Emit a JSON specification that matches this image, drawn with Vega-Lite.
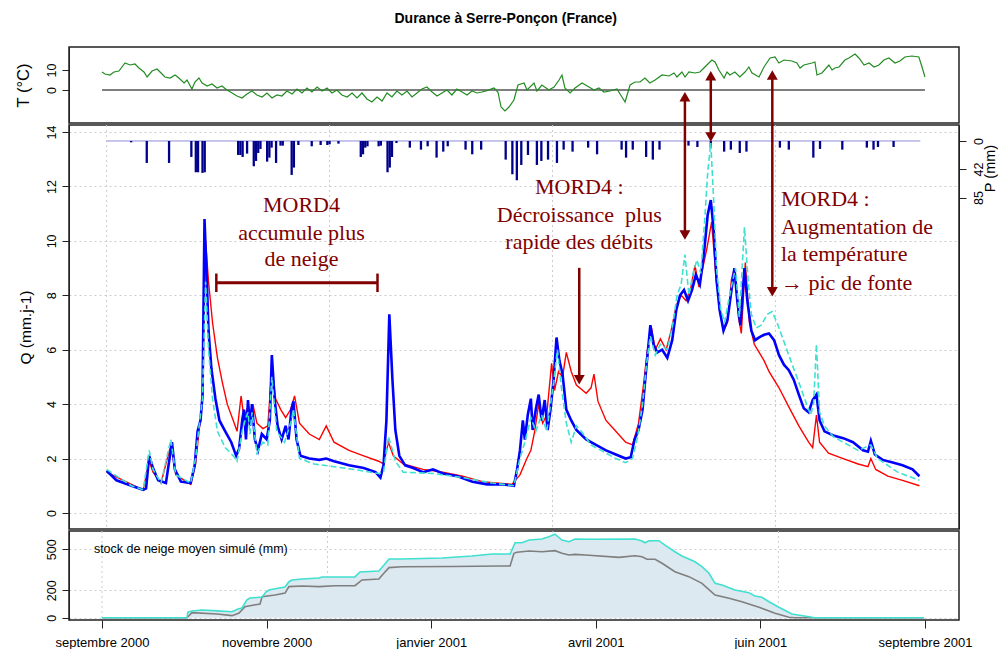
{
 "$schema": "https://vega.github.io/schema/vega-lite/v6.json",
 "padding": {"left": 14, "top": 12, "right": 2, "bottom": 2},
 "background": "white",
 "title": {"text": "Durance à Serre-Ponçon (France)", "font": "Liberation Sans", "fontSize": 14, "fontWeight": "bold", "anchor": "middle", "baseline": "bottom", "offset": 6, "color": "black"},
 "config": {
  "font": "Liberation Sans",
  "view": {"stroke": "#222", "strokeWidth": 1.5},
  "axis": {"labelFont": "Liberation Sans", "titleFont": "Liberation Sans", "labelColor": "black", "titleColor": "black", "domainColor": "#222", "tickColor": "#222", "labelFontSize": 12.5, "titleFontSize": 15.5, "titleFontWeight": "normal", "tickSize": 7, "gridColor": "#cccccc", "gridDash": [2, 3], "labelOverlap": false, "labelFlush": false, "labelBound": false}
 },
 "bounds": "flush",
 "spacing": 2,
 "datasets": {
  "one": [{"k": 0}],
  "temp": [
   {"d":0,"T":9},{"d":1.3,"T":8},{"d":3.5,"T":7.5},{"d":5.3,"T":9},{"d":7.5,"T":9.5},{"d":10.2,"T":13.5},{"d":12.4,"T":12.5},{"d":14.6,"T":13},{"d":16.4,"T":11},{"d":18.6,"T":9},{"d":20,"T":6.5},{"d":22.2,"T":9.5},{"d":24.4,"T":10.5},{"d":26.2,"T":8.5},{"d":27.9,"T":6.5},{"d":30.2,"T":6},{"d":32.4,"T":7.5},{"d":34.1,"T":6},{"d":36.4,"T":3.5},{"d":37.7,"T":5},{"d":39.9,"T":0.5},{"d":41.2,"T":4},{"d":43,"T":6},{"d":44.4,"T":3.5},
   {"d":46.6,"T":2},{"d":48.8,"T":3},{"d":51,"T":1},{"d":53.2,"T":2},{"d":55.4,"T":0},{"d":57.7,"T":-1.5},{"d":59.9,"T":-3},{"d":62.1,"T":-4},{"d":64.3,"T":-2},{"d":66.5,"T":-0.5},{"d":68.7,"T":-2.5},{"d":71,"T":-3.5},{"d":73.2,"T":-1.5},{"d":75.4,"T":-4},{"d":77.6,"T":-2.5},{"d":79.8,"T":-3},{"d":82,"T":-0.5},{"d":84.3,"T":-2},{"d":86.5,"T":0.5},{"d":88.7,"T":-1.5},{"d":90.9,"T":1},{"d":93.1,"T":-1},{"d":95.4,"T":1.5},{"d":97.6,"T":-0.5},{"d":99.8,"T":1},{"d":102,"T":-1.5},{"d":104.2,"T":0},{"d":106.4,"T":-2.5},{"d":108.7,"T":-3.5},{"d":110.9,"T":-1.5},{"d":113.1,"T":-4},{"d":115.3,"T":-1.5},{"d":117.5,"T":-4.5},{"d":119.7,"T":-6},{"d":122,"T":-3.5},{"d":124.2,"T":-5.5},{"d":126.4,"T":-1.5},{"d":128.6,"T":-3.5},{"d":130.8,"T":-0.5},{"d":133,"T":-2.5},{"d":135.3,"T":-0.5},{"d":137.5,"T":-3.5},{"d":139.7,"T":-1.5},{"d":141.9,"T":0.5},{"d":144.1,"T":1.5},{"d":146.4,"T":-1},{"d":148.6,"T":-3},{"d":150.8,"T":-1.5},{"d":153,"T":0},{"d":155.2,"T":-2.5},{"d":157.4,"T":0.5},{"d":159.7,"T":-1},{"d":161.9,"T":-2.5},{"d":164.1,"T":-0.5},{"d":166.3,"T":-1.5},{"d":168.5,"T":-1},
   {"d":170.7,"T":-0.3},{"d":173.9,"T":1},{"d":175.6,"T":-1},{"d":177,"T":-8.5},{"d":178.7,"T":-10.5},{"d":180.5,"T":-8.5},{"d":182.7,"T":-5},{"d":184.5,"T":2.5},{"d":187.2,"T":3.5},{"d":188.5,"T":0},{"d":191.6,"T":3.5},{"d":192.9,"T":-0.5},{"d":195.1,"T":2.5},{"d":198.2,"T":0},{"d":200.5,"T":1.5},{"d":202.7,"T":5},{"d":204,"T":7.5},{"d":205.3,"T":1},{"d":207.6,"T":-1.5},{"d":209.8,"T":1},{"d":212.9,"T":3.5},{"d":216,"T":1.5},{"d":218.2,"T":0},{"d":220.4,"T":1},{"d":222.6,"T":-1},{"d":225.3,"T":-0.5},{"d":228.4,"T":0.5},{"d":230.6,"T":-3.5},{"d":232,"T":-6},{"d":234.2,"T":2.5},{"d":236.4,"T":4},{"d":238.6,"T":4},{"d":240.8,"T":6},{"d":243,"T":3.5},{"d":245.3,"T":5},{"d":248.4,"T":7.5},{"d":251.5,"T":7},{"d":253.7,"T":8.5},{"d":255,"T":6.5},{"d":257.2,"T":9},{"d":258.6,"T":6.5},{"d":260.3,"T":9},{"d":263,"T":8.5},{"d":265.2,"T":9},{"d":267.4,"T":11.5},{"d":270.5,"T":15},{"d":271.9,"T":14},{"d":273.6,"T":10},{"d":275.9,"T":6},{"d":277.2,"T":9},{"d":278.5,"T":7.5},{"d":280.7,"T":9},{"d":282.9,"T":6.5},{"d":285.2,"T":9},{"d":286.9,"T":11.5},{"d":288.3,"T":8.5},{"d":291.4,"T":6.5},{"d":293.6,"T":11.5},{"d":296.3,"T":16},{"d":298.5,"T":16.5},{"d":300.2,"T":13.5},{"d":302.5,"T":15},{"d":306,"T":14.5},{"d":308.2,"T":13.5},{"d":309.6,"T":11},{"d":311.3,"T":12.5},{"d":314.9,"T":13.5},{"d":316.2,"T":14},{"d":317.1,"T":7.5},{"d":319.3,"T":8.5},{"d":322.4,"T":12.5},{"d":323.8,"T":10},{"d":325.1,"T":11},{"d":326.9,"T":11.5},{"d":329.5,"T":15},{"d":331.3,"T":16},{"d":334,"T":18},{"d":335.7,"T":16},{"d":338,"T":12.5},{"d":340.2,"T":13.5},{"d":342.4,"T":11.5},{"d":344.6,"T":12.5},{"d":346.8,"T":15},{"d":349,"T":16},{"d":351.7,"T":13.5},{"d":353.9,"T":14.5},{"d":356.1,"T":16.5},{"d":359.2,"T":17},{"d":362.3,"T":16.5},{"d":363.7,"T":11.5},{"d":365,"T":6.5}
  ],
  "qobs": [
   {"d":0,"q":1.55},{"d":4.4,"q":1.2},{"d":11.1,"q":1.0},{"d":16.4,"q":0.85},{"d":17.7,"q":0.9},{"d":19.1,"q":2.1},{"d":20.8,"q":1.65},{"d":23.1,"q":1.2},{"d":26.6,"q":1.1},{"d":28.4,"q":2.1},{"d":29.3,"q":2.6},{"d":30.6,"q":1.6},{"d":33.3,"q":1.15},{"d":37.7,"q":1.1},{"d":39.5,"q":1.75},{"d":40.8,"q":3.0},{"d":42.1,"q":3.4},{"d":43,"q":4.3},{"d":43.9,"q":10.8},{"d":44.8,"q":8.9},{"d":45.7,"q":6.7},{"d":47,"q":5.3},{"d":48.8,"q":4.2},{"d":50.6,"q":3.4},{"d":53.2,"q":3.0},{"d":55.9,"q":2.6},{"d":58.1,"q":2.1},{"d":59.4,"q":2.35},{"d":60.8,"q":3.4},{"d":61.6,"q":3.8},{"d":62.5,"q":2.7},{"d":63.4,"q":4.15},{"d":64.3,"q":3.2},{"d":65.2,"q":4.0},{"d":66.5,"q":2.7},{"d":67.9,"q":2.3},{"d":69.6,"q":2.9},{"d":71.8,"q":2.7},{"d":73.2,"q":3.4},{"d":74.1,"q":5.8},{"d":75.4,"q":4.15},{"d":76.7,"q":3.2},{"d":78.5,"q":2.7},{"d":80.3,"q":3.2},{"d":81.6,"q":2.7},{"d":82.9,"q":3.8},{"d":83.8,"q":4.1},{"d":85.2,"q":2.7},{"d":86.9,"q":2.1},{"d":90.9,"q":2.0},{"d":95.4,"q":1.95},{"d":98.5,"q":2.0},{"d":102,"q":1.9},{"d":108.7,"q":1.75},{"d":115.3,"q":1.65},{"d":120.6,"q":1.5},{"d":122.8,"q":1.3},{"d":124.2,"q":1.75},{"d":125.5,"q":3.4},{"d":126.8,"q":7.3},{"d":128.2,"q":4.9},{"d":129.5,"q":3.05},{"d":131.3,"q":2.1},{"d":133.9,"q":1.75},{"d":137.5,"q":1.65},{"d":141.9,"q":1.5},{"d":146.4,"q":1.6},{"d":150.8,"q":1.45},{"d":157.4,"q":1.35},{"d":164.1,"q":1.15},{"d":170.7,"q":1.05},{"d":177.4,"q":1.05},{"d":182.7,"q":1.0},{"d":184.1,"q":1.6},{"d":185.4,"q":2.3},{"d":186.7,"q":3.4},{"d":187.6,"q":2.7},{"d":188.9,"q":3.6},{"d":190.3,"q":4.2},{"d":191.1,"q":3.05},{"d":192.5,"q":3.8},{"d":193.8,"q":4.35},{"d":195.1,"q":3.4},{"d":196.5,"q":4.15},{"d":197.8,"q":3.05},{"d":199.1,"q":3.8},{"d":200.5,"q":4.9},{"d":201.8,"q":6.45},{"d":203.1,"q":5.6},{"d":204.5,"q":5.1},{"d":206.2,"q":3.8},{"d":208.4,"q":3.4},{"d":210.7,"q":3.05},{"d":215.1,"q":2.7},{"d":219.5,"q":2.5},{"d":224,"q":2.3},{"d":228.4,"q":2.15},{"d":232.8,"q":2.0},{"d":235.1,"q":2.05},{"d":236.8,"q":2.7},{"d":238.6,"q":3.05},{"d":240.4,"q":3.8},{"d":242.2,"q":5.45},{"d":243.9,"q":6.9},{"d":245.3,"q":6.2},{"d":247,"q":5.9},{"d":249.2,"q":6.0},{"d":251.5,"q":5.7},{"d":253.7,"q":6.35},{"d":255.5,"q":7.45},{"d":257.2,"q":8.0},{"d":259,"q":8.2},{"d":260.8,"q":7.8},{"d":262.6,"q":8.2},{"d":264.3,"q":8.75},{"d":266.1,"q":8.4},{"d":267.9,"q":9.5},{"d":269.6,"q":10.95},{"d":271,"q":11.5},{"d":272.3,"q":10.4},{"d":273.6,"q":8.55},{"d":275,"q":7.45},{"d":276.7,"q":6.7},{"d":278.5,"q":7.1},{"d":280.3,"q":8.2},{"d":281.6,"q":9.0},{"d":282.9,"q":7.8},{"d":284.3,"q":6.9},{"d":286.1,"q":9.0},{"d":287.4,"q":7.8},{"d":289.2,"q":6.7},{"d":290.9,"q":6.35},{"d":292.7,"q":6.45},{"d":294.9,"q":6.55},{"d":297.1,"q":6.6},{"d":299.4,"q":6.35},{"d":301.6,"q":5.8},{"d":303.8,"q":5.45},{"d":306,"q":5.25},{"d":308.2,"q":4.9},{"d":310.5,"q":4.35},{"d":312.7,"q":3.85},{"d":314.9,"q":3.7},{"d":316.7,"q":4.15},{"d":318.4,"q":4.35},{"d":319.8,"q":3.4},{"d":322,"q":3.0},{"d":326,"q":2.85},{"d":330.4,"q":2.75},{"d":334.8,"q":2.6},{"d":339.3,"q":2.3},{"d":341.5,"q":2.25},{"d":342.8,"q":2.65},{"d":344.6,"q":2.15},{"d":348.1,"q":1.95},{"d":352.6,"q":1.85},{"d":357,"q":1.75},{"d":361.5,"q":1.6},{"d":364.6,"q":1.35}
  ],
  "qred": [
   {"d":0,"q":1.5},{"d":11.1,"q":1.05},{"d":16.4,"q":0.85},{"d":19.1,"q":1.9},{"d":20.8,"q":1.5},{"d":24.4,"q":1.1},{"d":28.8,"q":2.5},{"d":31,"q":1.4},{"d":37.7,"q":1.05},{"d":39.9,"q":1.8},{"d":41.2,"q":2.8},{"d":43,"q":4.2},{"d":44.4,"q":10.0},{"d":45.7,"q":8.5},{"d":47.5,"q":7.0},{"d":49.7,"q":5.7},{"d":51.9,"q":4.8},{"d":54.1,"q":4.0},{"d":56.8,"q":3.4},{"d":58.5,"q":3.0},{"d":60.3,"q":4.3},{"d":61.6,"q":3.5},{"d":63.4,"q":3.9},{"d":64.8,"q":3.5},{"d":65.6,"q":4.0},{"d":67.4,"q":3.3},{"d":70.1,"q":3.1},{"d":72.3,"q":3.2},{"d":74.1,"q":5.3},{"d":75.8,"q":4.2},{"d":78.1,"q":3.8},{"d":80.3,"q":3.5},{"d":82.5,"q":3.8},{"d":84.3,"q":4.3},{"d":86.5,"q":3.3},{"d":90.9,"q":2.9},{"d":95.4,"q":2.7},{"d":98.5,"q":3.2},{"d":102,"q":2.6},{"d":108.7,"q":2.3},{"d":115.3,"q":2.1},{"d":122,"q":1.9},{"d":124.2,"q":1.8},{"d":126.4,"q":2.6},{"d":128.6,"q":2.1},{"d":133,"q":1.8},{"d":141.9,"q":1.6},{"d":150.8,"q":1.5},{"d":159.7,"q":1.35},{"d":168.5,"q":1.15},{"d":181.8,"q":1.05},{"d":185.4,"q":1.4},{"d":188.5,"q":2.0},{"d":190.3,"q":2.3},{"d":192,"q":3.0},{"d":193.8,"q":4.0},{"d":195.6,"q":3.3},{"d":197.4,"q":3.6},{"d":199.6,"q":5.5},{"d":200.9,"q":4.5},{"d":202.7,"q":5.2},{"d":204.5,"q":5.0},{"d":206.2,"q":5.9},{"d":208.4,"q":5.2},{"d":210.7,"q":4.7},{"d":215.1,"q":4.4},{"d":217.3,"q":4.6},{"d":218.6,"q":5.1},{"d":220.4,"q":4.1},{"d":224,"q":3.4},{"d":228.4,"q":3.0},{"d":232.8,"q":2.6},{"d":235.9,"q":2.5},{"d":238.6,"q":3.3},{"d":240.8,"q":4.7},{"d":242.6,"q":6.0},{"d":244.4,"q":6.8},{"d":246.1,"q":6.0},{"d":248.4,"q":6.4},{"d":251,"q":6.0},{"d":253.2,"q":6.7},{"d":255.5,"q":7.6},{"d":257.7,"q":8.0},{"d":259.9,"q":7.8},{"d":262.1,"q":8.3},{"d":263.9,"q":9.1},{"d":265.7,"q":8.3},{"d":267.4,"q":9.0},{"d":269.2,"q":9.7},{"d":271.4,"q":10.7},{"d":273.2,"q":8.8},{"d":275,"q":7.4},{"d":276.7,"q":6.7},{"d":278.5,"q":7.0},{"d":280.3,"q":8.6},{"d":281.6,"q":9.0},{"d":283.4,"q":7.2},{"d":284.7,"q":6.6},{"d":286.5,"q":9.2},{"d":288.3,"q":7.0},{"d":290.5,"q":6.2},{"d":292.7,"q":5.9},{"d":294.9,"q":5.6},{"d":297.1,"q":5.2},{"d":301.6,"q":4.6},{"d":306,"q":3.9},{"d":310.5,"q":3.2},{"d":314.9,"q":2.6},{"d":316.7,"q":2.4},{"d":318.4,"q":3.6},{"d":319.8,"q":2.6},{"d":323.8,"q":2.2},{"d":330.4,"q":2.0},{"d":337.1,"q":1.8},{"d":341.5,"q":1.7},{"d":342.8,"q":2.0},{"d":345,"q":1.6},{"d":350.4,"q":1.35},{"d":357,"q":1.2},{"d":364.6,"q":1.0}
  ],
  "qcyan": [
   {"d":0,"q":1.6},{"d":11.1,"q":1.0},{"d":16.4,"q":0.85},{"d":19.1,"q":2.3},{"d":20.8,"q":1.6},{"d":24.4,"q":1.1},{"d":28.8,"q":2.7},{"d":31,"q":1.4},{"d":37.7,"q":1.1},{"d":39.9,"q":2.0},{"d":41.2,"q":3.0},{"d":43,"q":4.2},{"d":44.4,"q":8.5},{"d":45.7,"q":6.0},{"d":47.5,"q":4.2},{"d":49.7,"q":3.0},{"d":53.2,"q":2.4},{"d":56.8,"q":2.1},{"d":58.5,"q":1.9},{"d":60.8,"q":3.0},{"d":62.1,"q":3.4},{"d":63.4,"q":3.7},{"d":64.3,"q":2.9},{"d":65.2,"q":3.7},{"d":67.4,"q":2.2},{"d":70.1,"q":2.6},{"d":72.3,"q":2.5},{"d":74.1,"q":5.0},{"d":76.3,"q":3.0},{"d":79.8,"q":2.6},{"d":82.9,"q":3.4},{"d":83.8,"q":3.8},{"d":86.5,"q":2.0},{"d":93.1,"q":1.8},{"d":102,"q":1.7},{"d":110.9,"q":1.6},{"d":122,"q":1.45},{"d":124.2,"q":1.5},{"d":126.4,"q":2.8},{"d":128.6,"q":2.2},{"d":129.5,"q":1.9},{"d":133,"q":1.5},{"d":146.4,"q":1.45},{"d":159.7,"q":1.3},{"d":173,"q":1.1},{"d":182.7,"q":1.0},{"d":185.4,"q":2.0},{"d":187.6,"q":2.6},{"d":190.3,"q":3.5},{"d":192.5,"q":3.0},{"d":195.1,"q":3.6},{"d":197.4,"q":3.0},{"d":200.5,"q":4.8},{"d":202.2,"q":6.0},{"d":204,"q":4.6},{"d":206.2,"q":3.3},{"d":208.4,"q":2.6},{"d":210.7,"q":3.2},{"d":212.9,"q":3.0},{"d":217.3,"q":2.5},{"d":221.8,"q":2.3},{"d":228.4,"q":2.0},{"d":232.8,"q":1.85},{"d":235.9,"q":2.0},{"d":238.2,"q":2.8},{"d":240.4,"q":4.0},{"d":242.2,"q":5.5},{"d":243.9,"q":6.5},{"d":246.1,"q":5.8},{"d":248.4,"q":6.2},{"d":251.5,"q":6.0},{"d":253.7,"q":6.8},{"d":255.9,"q":8.0},{"d":257.7,"q":8.4},{"d":259.4,"q":9.5},{"d":261.2,"q":8.0},{"d":263,"q":8.8},{"d":264.8,"q":9.3},{"d":266.5,"q":8.8},{"d":268.3,"q":10.8},{"d":269.6,"q":12.5},{"d":271,"q":13.6},{"d":272.3,"q":11.5},{"d":273.6,"q":9.0},{"d":275.4,"q":7.5},{"d":277.2,"q":7.0},{"d":279,"q":7.8},{"d":280.7,"q":8.5},{"d":282.1,"q":9.0},{"d":283.8,"q":7.2},{"d":286.1,"q":10.5},{"d":287.8,"q":8.5},{"d":289.2,"q":7.3},{"d":291.4,"q":6.8},{"d":293.6,"q":6.9},{"d":296.3,"q":7.3},{"d":298.5,"q":7.4},{"d":300.7,"q":7.0},{"d":303.8,"q":6.3},{"d":306,"q":5.8},{"d":308.2,"q":5.3},{"d":310.5,"q":4.8},{"d":313.1,"q":4.2},{"d":315.8,"q":3.6},{"d":317.1,"q":4.0},{"d":318.4,"q":6.2},{"d":319.8,"q":3.7},{"d":322,"q":3.2},{"d":326,"q":2.8},{"d":330.4,"q":2.6},{"d":337.1,"q":2.3},{"d":342.8,"q":2.5},{"d":345.9,"q":2.0},{"d":354.8,"q":1.5},{"d":364.6,"q":1.2}
  ],
  "precip": [
   {"d":11,"P":2},{"d":18,"P":33},{"d":28,"P":33},{"d":38,"P":24},{"d":40,"P":47},{"d":41,"P":47},{"d":43,"P":48},{"d":44,"P":47},{"d":59,"P":21},{"d":60,"P":21},{"d":61,"P":24},{"d":63,"P":19},{"d":66,"P":38},{"d":67,"P":30},{"d":68,"P":18},{"d":69,"P":12},{"d":72,"P":31},{"d":73,"P":25},{"d":74,"P":10},{"d":76,"P":33},{"d":78,"P":7},{"d":79,"P":7},{"d":83,"P":51},{"d":84,"P":40},{"d":86,"P":6},{"d":92,"P":8},{"d":96,"P":6},{"d":99,"P":6},{"d":100,"P":5},{"d":104,"P":4},{"d":114,"P":24},{"d":115,"P":20},{"d":116,"P":10},{"d":117,"P":8},{"d":122,"P":8},{"d":123,"P":7},{"d":126,"P":47},{"d":127,"P":40},{"d":128,"P":24},{"d":130,"P":3},
   {"d":136,"P":10},{"d":141,"P":13},{"d":144,"P":8},{"d":148,"P":25},{"d":151,"P":16},{"d":153,"P":8},{"d":161,"P":13},{"d":164,"P":20},{"d":168,"P":13},{"d":179,"P":28},{"d":182,"P":50},{"d":184,"P":59},{"d":186,"P":36},{"d":189,"P":21},{"d":193,"P":36},{"d":195,"P":30},{"d":198,"P":28},{"d":202,"P":33},{"d":205,"P":13},{"d":209,"P":16},{"d":216,"P":10},{"d":220,"P":20},{"d":231,"P":13},{"d":233,"P":25},{"d":236,"P":13},{"d":242,"P":24},{"d":245,"P":28},{"d":248,"P":13},{"d":261,"P":7},{"d":265,"P":9},{"d":271,"P":10},{"d":277,"P":16},{"d":280,"P":13},{"d":284,"P":18},{"d":287,"P":16},{"d":302,"P":10},{"d":306,"P":13},{"d":317,"P":25},{"d":320,"P":12},{"d":330,"P":13},{"d":341,"P":10},{"d":344,"P":13},{"d":346,"P":9},{"d":353,"P":9}
  ],
  "snowA": [
   {"d":0,"s":0},{"d":37.7,"s":0},{"d":38.1,"s":40},{"d":39.9,"s":49},{"d":44.4,"s":56},{"d":51,"s":50},{"d":57.7,"s":44},{"d":60.3,"s":63},{"d":62.1,"s":71},{"d":64.3,"s":130},{"d":65.6,"s":144},{"d":71,"s":151},{"d":72.7,"s":188},{"d":74.1,"s":202},{"d":78.5,"s":217},{"d":81.2,"s":224},{"d":82.9,"s":263},{"d":84.3,"s":276},{"d":88.7,"s":283},{"d":96.2,"s":290},{"d":97.6,"s":298},{"d":112.2,"s":298},{"d":114.4,"s":334},{"d":122.8,"s":341},{"d":125.1,"s":385},{"d":127.3,"s":429},{"d":133,"s":429},{"d":150.8,"s":436},{"d":164.1,"s":451},{"d":173,"s":466},{"d":181,"s":466},{"d":183.2,"s":548},{"d":186.3,"s":548},{"d":189.4,"s":568},{"d":195.1,"s":575},{"d":198.2,"s":592},{"d":200.9,"s":610},{"d":204,"s":568},{"d":207.1,"s":555},{"d":209.8,"s":575},{"d":216,"s":573},{"d":236.4,"s":575},{"d":239.5,"s":561},{"d":240.8,"s":548},{"d":242.6,"s":563},{"d":247,"s":563},{"d":249.7,"s":531},{"d":254.1,"s":482},{"d":257.2,"s":451},{"d":263,"s":409},{"d":266.1,"s":373},{"d":269.2,"s":325},{"d":271.9,"s":251},{"d":275,"s":239},{"d":280.7,"s":202},{"d":286.9,"s":183},{"d":289.6,"s":159},{"d":292.7,"s":149},{"d":295.8,"s":117},{"d":300.2,"s":76},{"d":306,"s":27},{"d":313.6,"s":7},{"d":316.2,"s":0},{"d":364.6,"s":0}
  ],
  "snowB": [
   {"d":0,"s":0},{"d":37.7,"s":0},{"d":39.9,"s":37},{"d":51,"s":27},{"d":57.7,"s":15},{"d":60.8,"s":34},{"d":63.4,"s":80},{"d":67.4,"s":93},{"d":70.1,"s":100},{"d":71,"s":154},{"d":76.7,"s":166},{"d":81.2,"s":180},{"d":82.9,"s":227},{"d":88.7,"s":232},{"d":96.2,"s":227},{"d":103.3,"s":234},{"d":112.2,"s":234},{"d":115.3,"s":276},{"d":122.8,"s":283},{"d":125.1,"s":327},{"d":127.3,"s":366},{"d":133,"s":373},{"d":155.2,"s":374},{"d":177.4,"s":378},{"d":181,"s":378},{"d":182.7,"s":471},{"d":184.1,"s":478},{"d":189.4,"s":488},{"d":195.1,"s":482},{"d":200.9,"s":490},{"d":204,"s":471},{"d":207.1,"s":458},{"d":209.8,"s":463},{"d":216,"s":456},{"d":229.3,"s":441},{"d":236.4,"s":453},{"d":239.5,"s":446},{"d":241.7,"s":427},{"d":245.3,"s":427},{"d":248.4,"s":398},{"d":254.1,"s":336},{"d":260.3,"s":300},{"d":266.1,"s":251},{"d":271.9,"s":166},{"d":278.1,"s":142},{"d":283.8,"s":117},{"d":291.4,"s":76},{"d":298.5,"s":32},{"d":304.7,"s":3},{"d":307.3,"s":0},{"d":364.6,"s":0}
  ],
  "grid": [{"g":0},{"g":100},{"g":200},{"g":300}],
  "annCenter": [
   {"d":87.4,"q":11.08,"t":"MORD4"},{"d":87.4,"q":10.04,"t":"accumule plus"},{"d":87.4,"q":9.06,"t":"de neige"},
   {"d":212.0,"q":11.73,"t":"MORD4 :"},{"d":212.0,"q":10.7,"t":"Décroissance\u00a0 plus"},{"d":212.0,"q":9.71,"t":"rapide des débits"}
  ],
  "annLeft": [
   {"d":302.5,"q":11.29,"t":"MORD4 :"},{"d":302.5,"q":10.26,"t":"Augmentation de"},{"d":302.5,"q":9.26,"t":"la température"},{"d":302.5,"q":8.2,"t":"→ pic de fonte"}
  ],
  "shafts": [
   {"d":212.0,"q1":9.01,"q2":5.0},{"d":259.4,"q1":15.2,"q2":10.2},{"d":271.0,"q1":16.0,"q2":13.8},{"d":298.6,"q1":16.0,"q2":8.1}
  ],
  "headsUp": [{"d":259.4,"q":15.3},{"d":271.0,"q":16.07},{"d":298.6,"q":16.1}],
  "headsDown": [{"d":212.0,"q":4.9},{"d":259.4,"q":10.22},{"d":271.0,"q":13.82},{"d":298.6,"q":8.13}],
  "bracket": [{"d1":49.2,"d2":121.5,"q":8.46}],
  "caps": [{"d":49.2,"q1":8.12,"q2":8.8},{"d":121.5,"q1":8.12,"q2":8.8}],
  "snowLabel": [{"d": -3.6, "s": 502, "t": "stock de neige moyen simulé (mm)"}]
 },
 "vconcat": [
  {
   "width": 890, "height": 76,
   "layer": [
    {"data": {"name": "one"}, "mark": {"type": "rule", "color": "black", "strokeWidth": 1.2},
     "encoding": {"x": {"datum": 0, "type": "quantitative", "scale": {"domain": [-14.64, 380.1], "nice": false, "zero": false}, "axis": null}, "x2": {"datum": 365}, "y": {"datum": 0, "type": "quantitative"}}},
    {"data": {"name": "temp"}, "mark": {"type": "line", "color": "#238b23", "strokeWidth": 1.2},
     "encoding": {
      "x": {"field": "d", "type": "quantitative", "scale": {"domain": [-14.64, 380.1], "nice": false, "zero": false}, "axis": null},
      "y": {"field": "T", "type": "quantitative", "scale": {"domain": [-16.5, 21.5], "nice": false, "zero": false},
       "axis": {"title": "T (°C)", "titleFontSize": 16.5, "titleX": -46, "titleBaseline": "middle", "values": [0, 10], "labelOverlap": false, "labelAngle": -90, "labelAlign": "center", "labelBaseline": "bottom", "labelPadding": 4, "grid": false}}
     }}
   ]
  },
  {
   "width": 890, "height": 404,
   "layer": [
    {"data": {"name": "grid"}, "mark": {"type": "rule", "color": "#cccccc", "strokeDash": [2, 3], "strokeWidth": 1},
     "encoding": {"x": {"field": "g", "type": "quantitative", "scale": {"domain": [-14.64, 380.1], "nice": false, "zero": false}, "axis": null}}},
    {"data": {"name": "one"}, "mark": {"type": "rule", "color": "#8c8cd9", "strokeWidth": 1},
     "encoding": {"x": {"datum": 0, "type": "quantitative"}, "x2": {"datum": 365}, "y": {"datum": 0, "type": "quantitative", "scale": {"domain": [-24.0, 582.8], "reverse": true, "nice": false, "zero": false}, "axis": null}}},
    {"data": {"name": "precip"}, "mark": {"type": "bar", "width": 2.3, "color": "#00008b"},
     "encoding": {
      "x": {"field": "d", "type": "quantitative"},
      "y": {"field": "P", "type": "quantitative", "scale": {"domain": [-24.0, 582.8], "reverse": true, "nice": false, "zero": false},
       "axis": {"orient": "right", "title": "P (mm)", "titleX": 31, "titleY": 43, "titleBaseline": "middle", "titleAngle": -90, "titleFontSize": 14.5, "values": [0, 42, 85], "labelOverlap": false, "labelAngle": -90, "labelAlign": "center", "labelBaseline": "bottom", "labelPadding": 19, "grid": false}},
      "y2": {"datum": 0}
     }},
    {"data": {"name": "qred"}, "mark": {"type": "line", "color": "#ff0000", "strokeWidth": 1.4},
     "encoding": {
      "x": {"field": "d", "type": "quantitative"},
      "y": {"field": "q", "type": "quantitative", "scale": {"domain": [-0.59, 14.26], "nice": false, "zero": false},
       "axis": {"orient": "left", "title": "Q (mm.j-1)", "titleX": -44, "titleBaseline": "middle", "values": [0, 2, 4, 6, 8, 10, 12, 14], "labelOverlap": false, "labelAngle": -90, "labelAlign": "center", "labelBaseline": "bottom", "labelPadding": 4, "grid": true}}
     }},
    {"data": {"name": "qobs"}, "mark": {"type": "line", "color": "#0000ff", "strokeWidth": 2.6},
     "encoding": {"x": {"field": "d", "type": "quantitative"}, "y": {"field": "q", "type": "quantitative", "scale": {"domain": [-0.59, 14.26], "nice": false, "zero": false}, "axis": null}}},
    {"data": {"name": "qcyan"}, "mark": {"type": "line", "color": "#40e0d0", "strokeWidth": 1.6, "strokeDash": [6, 3]},
     "encoding": {"x": {"field": "d", "type": "quantitative"}, "y": {"field": "q", "type": "quantitative", "scale": {"domain": [-0.59, 14.26], "nice": false, "zero": false}, "axis": null}}},
    {"data": {"name": "annCenter"}, "mark": {"type": "text", "font": "Liberation Serif", "fontSize": 22, "color": "#800000", "align": "center", "baseline": "alphabetic"},
     "encoding": {"x": {"field": "d", "type": "quantitative"}, "y": {"field": "q", "type": "quantitative", "scale": {"domain": [-0.59, 14.26], "nice": false, "zero": false}, "axis": null}, "text": {"field": "t", "type": "nominal"}}},
    {"data": {"name": "annLeft"}, "mark": {"type": "text", "font": "Liberation Serif", "fontSize": 22, "color": "#800000", "align": "left", "baseline": "alphabetic"},
     "encoding": {"x": {"field": "d", "type": "quantitative"}, "y": {"field": "q", "type": "quantitative", "scale": {"domain": [-0.59, 14.26], "nice": false, "zero": false}, "axis": null}, "text": {"field": "t", "type": "nominal"}}},
    {"data": {"name": "shafts"}, "mark": {"type": "rule", "color": "#800000", "strokeWidth": 2.5},
     "encoding": {"x": {"field": "d", "type": "quantitative"}, "y": {"field": "q1", "type": "quantitative", "scale": {"domain": [-0.59, 14.26], "nice": false, "zero": false}, "axis": null}, "y2": {"field": "q2"}}},
    {"data": {"name": "headsUp"}, "mark": {"type": "point", "shape": "triangle-up", "filled": true, "opacity": 1, "color": "#800000", "size": 120},
     "encoding": {"x": {"field": "d", "type": "quantitative"}, "y": {"field": "q", "type": "quantitative", "scale": {"domain": [-0.59, 14.26], "nice": false, "zero": false}, "axis": null}}},
    {"data": {"name": "headsDown"}, "mark": {"type": "point", "shape": "triangle-down", "filled": true, "opacity": 1, "color": "#800000", "size": 120},
     "encoding": {"x": {"field": "d", "type": "quantitative"}, "y": {"field": "q", "type": "quantitative", "scale": {"domain": [-0.59, 14.26], "nice": false, "zero": false}, "axis": null}}},
    {"data": {"name": "bracket"}, "mark": {"type": "rule", "color": "#800000", "strokeWidth": 3},
     "encoding": {"x": {"field": "d1", "type": "quantitative"}, "x2": {"field": "d2"}, "y": {"field": "q", "type": "quantitative", "scale": {"domain": [-0.59, 14.26], "nice": false, "zero": false}, "axis": null}}},
    {"data": {"name": "caps"}, "mark": {"type": "rule", "color": "#800000", "strokeWidth": 2.5},
     "encoding": {"x": {"field": "d", "type": "quantitative"}, "y": {"field": "q1", "type": "quantitative", "scale": {"domain": [-0.59, 14.26], "nice": false, "zero": false}, "axis": null}, "y2": {"field": "q2"}}}
   ],
   "resolve": {"scale": {"y": "independent"}}
  },
  {
   "width": 890, "height": 89,
   "layer": [
    {"data": {"name": "grid"}, "mark": {"type": "rule", "color": "#cccccc", "strokeDash": [2, 3], "strokeWidth": 1},
     "encoding": {"x": {"field": "g", "type": "quantitative", "scale": {"domain": [-14.64, 380.1], "nice": false, "zero": false}}}},
    {"data": {"name": "snowA"}, "mark": {"type": "area", "color": "#dde9f1", "opacity": 1},
     "encoding": {
      "x": {"field": "d", "type": "quantitative", "scale": {"domain": [-14.64, 380.1], "nice": false, "zero": false},
       "axis": {"title": null, "values": [0, 73, 146, 219, 292, 365], "labelExpr": "datum.value == 0 ? 'septembre 2000' : datum.value == 73 ? 'novembre 2000' : datum.value == 146 ? 'janvier 2001' : datum.value == 219 ? 'avril 2001' : datum.value == 292 ? 'juin 2001' : 'septembre 2001'", "labelOverlap": false, "labelFontSize": 13, "labelPadding": 8, "tickSize": 8, "domain": false, "grid": false}},
      "y": {"field": "s", "type": "quantitative", "scale": {"domain": [-16.8, 633.8], "nice": false, "zero": false},
       "axis": {"title": null, "values": [0, 200, 500], "labelOverlap": false, "labelAngle": -90, "labelAlign": "center", "labelBaseline": "bottom", "labelPadding": 4, "grid": true}},
      "y2": {"datum": 0}
     }},
    {"data": {"name": "snowB"}, "mark": {"type": "line", "color": "#7f7f7f", "strokeWidth": 1.6},
     "encoding": {"x": {"field": "d", "type": "quantitative"}, "y": {"field": "s", "type": "quantitative"}}},
    {"data": {"name": "snowA"}, "mark": {"type": "line", "color": "#40e0d0", "strokeWidth": 1.6},
     "encoding": {"x": {"field": "d", "type": "quantitative"}, "y": {"field": "s", "type": "quantitative"}}},
    {"data": {"name": "snowLabel"}, "mark": {"type": "text", "align": "left", "baseline": "middle", "fontSize": 12.5, "font": "Liberation Sans", "color": "black"},
     "encoding": {"x": {"field": "d", "type": "quantitative"}, "y": {"field": "s", "type": "quantitative"}, "text": {"field": "t", "type": "nominal"}}}
   ]
  }
 ]
}
